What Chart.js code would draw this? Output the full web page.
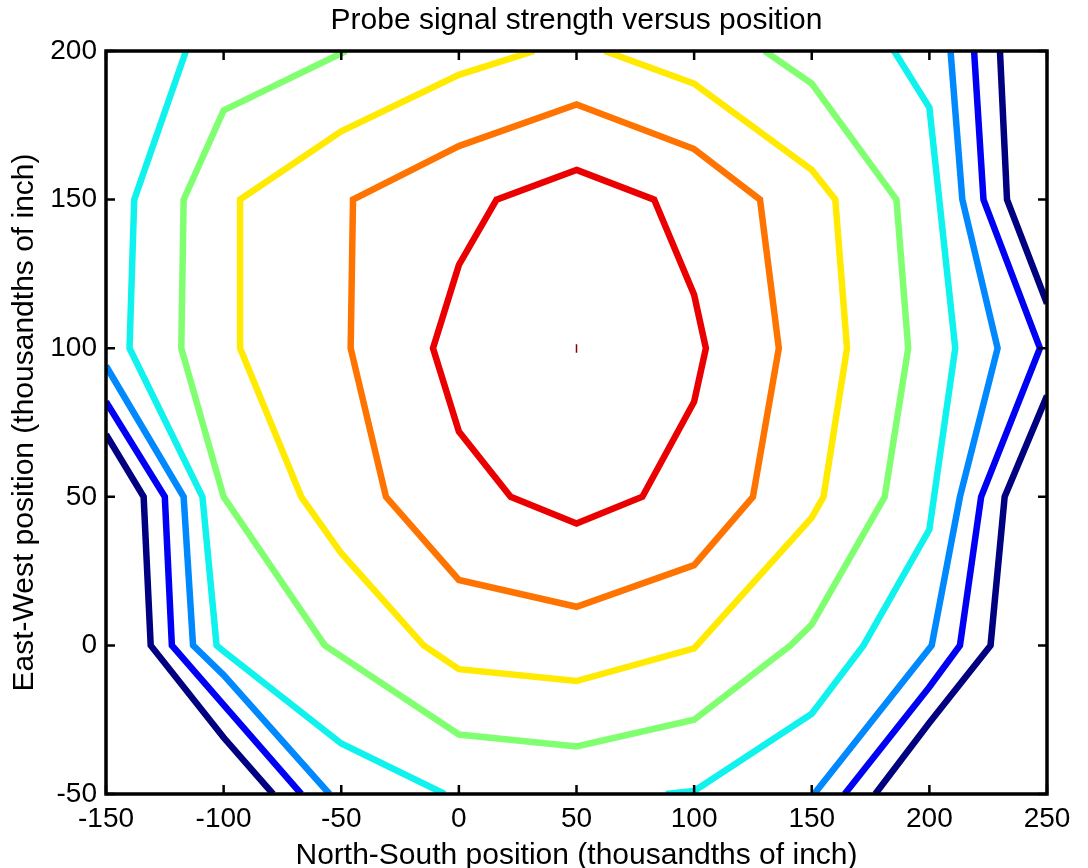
<!DOCTYPE html>
<html>
<head>
<meta charset="utf-8">
<title>Probe signal strength versus position</title>
<script src="https://cdn.jsdelivr.net/npm/chart.js@4.4.1/dist/chart.umd.min.js"></script>
<style>
  html, body { margin: 0; padding: 0; background: #ffffff; }
  #wrap { width: 1088px; height: 868px; }
</style>
</head>
<body>
<div id="wrap"><canvas id="contourChart" width="1088" height="868"></canvas></div>
<script>
// axis ticks
const xTicks = [-150, -100, -50, 0, 50, 100, 150, 200, 250];
const yTicks = [-50, 0, 50, 100, 150, 200];

// contour lines, [x, y] in thousandths of inch, lowest level first
const navyLeft = [[-150, 71], [-134, 50], [-131, 0], [-100, -31], [-79, -50]];
const navyRightTop = [[230, 200], [233, 150], [250, 115]];
const navyRightBottom = [[250, 84], [232, 50], [226, 0], [200, -26], [177, -50]];

const blueLeft = [[-150, 82], [-125, 50], [-122, 0], [-100, -20], [-67, -50]];
const blueRight = [[219, 200], [223, 150], [247, 100], [222, 50], [213, 0], [200, -14], [164, -50]];

const azureLeft = [[-150, 94], [-117, 50], [-113, 0], [-100, -10], [-55, -50]];
const azureRight = [[209, 200], [214, 150], [229, 100], [213, 50], [201, 0], [151, -50]];

const cyanLeft = [[-116, 200], [-138, 150], [-140, 100], [-109, 50], [-103, 0], [-100, -2], [-50, -33], [-6, -50]];
const cyanRight = [[185, 200], [200, 181], [211, 100], [200, 39], [172, 0], [150, -23], [100, -49], [88, -50]];

const greenLine = [[-48, 200], [-100, 180], [-117, 150], [-118, 100], [-100, 50], [-57, 0], [0, -30],
  [50, -34], [100, -25], [141, 0], [150, 7], [181, 50], [191, 100], [186, 150], [150, 189], [130, 200]];

const yellowLine = [[32, 200], [0, 192], [-50, 173], [-93, 150], [-93, 100], [-67, 50], [-50, 31], [-15, 0],
  [0, -8], [50, -12], [100, -1], [150, 43], [155, 50], [165, 100], [160, 150], [150, 160], [100, 189], [62, 200]];

// closed loops repeat the first two vertices so the seam gets a proper join
const orangeLine = [[50, 182], [100, 167], [128, 150], [136, 100], [125, 50], [100, 27], [50, 13], [0, 22],
  [-31, 50], [-46, 100], [-45, 150], [0, 168], [50, 182], [100, 167]];

const redLine = [[50, 160], [83, 150], [100, 118], [105, 100], [100, 82], [78, 50], [50, 41], [22, 50],
  [0, 72], [-11, 100], [0, 128], [16, 150], [50, 160], [83, 150]];

const peakLine = [[50, 101.3], [50, 98.5]];

const fontFamily = "'Liberation Sans', Arial, Helvetica, sans-serif";

function toPoints(list) {
    return list.map(function(p) { return { x: p[0], y: p[1] }; });
}

function contour(list, color, width) {
    return {
        data: toPoints(list),
        showLine: true,
        borderColor: color,
        backgroundColor: color,
        borderWidth: width || 6.5,
        pointRadius: 0,
        pointHoverRadius: 0,
        fill: false,
        tension: 0,
        clip: 0
    };
}

// MATLAB style box with inward ticks on all four sides
const axesBox = {
    id: 'axesBox',
    afterDatasetsDraw(chart) {
        const ctx = chart.ctx;
        const a = chart.chartArea;
        const xs = chart.scales.x;
        const ys = chart.scales.y;
        const len = 9;
        ctx.save();
        ctx.strokeStyle = '#000000';
        ctx.lineWidth = 2.5;
        ctx.beginPath();
        xTicks.forEach(function(v) {
            const px = xs.getPixelForValue(v);
            ctx.moveTo(px, a.bottom);
            ctx.lineTo(px, a.bottom - len);
            ctx.moveTo(px, a.top);
            ctx.lineTo(px, a.top + len);
        });
        yTicks.forEach(function(v) {
            const py = ys.getPixelForValue(v);
            ctx.moveTo(a.left, py);
            ctx.lineTo(a.left + len, py);
            ctx.moveTo(a.right, py);
            ctx.lineTo(a.right - len, py);
        });
        ctx.stroke();
        ctx.lineWidth = 3.5;
        ctx.strokeRect(a.left, a.top, a.right - a.left, a.bottom - a.top);
        ctx.restore();
    }
};

const ctx = document.getElementById('contourChart').getContext('2d');

new Chart(ctx, {
    type: 'scatter',
    data: {
        datasets: [
            contour(navyLeft, '#000080'),
            contour(navyRightTop, '#000080'),
            contour(navyRightBottom, '#000080'),
            contour(blueLeft, '#0000F5'),
            contour(blueRight, '#0000F5'),
            contour(azureLeft, '#0088FF'),
            contour(azureRight, '#0088FF'),
            contour(cyanLeft, '#10F2EE'),
            contour(cyanRight, '#10F2EE'),
            contour(greenLine, '#80FF70'),
            contour(yellowLine, '#FFEA00'),
            contour(orangeLine, '#FF7400'),
            contour(redLine, '#EA0000'),
            contour(peakLine, '#8A0000', 1.5)
        ]
    },
    options: {
        responsive: false,
        animation: false,
        devicePixelRatio: 1,
        layout: {
            padding: { left: 0, right: 41, top: 0, bottom: 0 }
        },
        scales: {
            x: {
                type: 'linear',
                min: -150,
                max: 250,
                afterBuildTicks: function(scale) {
                    scale.ticks = xTicks.map(function(v) { return { value: v }; });
                },
                afterFit: function(scale) {
                    scale.height = 74;
                },
                grid: { display: false, drawTicks: false },
                border: { display: false },
                ticks: {
                    color: '#000000',
                    padding: 1.5,
                    maxRotation: 0,
                    autoSkip: false,
                    font: { family: fontFamily, size: 28, lineHeight: 1.68 }
                },
                title: {
                    display: true,
                    text: 'North-South position (thousandths of inch)',
                    color: '#000000',
                    padding: { top: 0, bottom: 0 },
                    font: { family: fontFamily, size: 30, lineHeight: 0.85 }
                }
            },
            y: {
                type: 'linear',
                min: -50,
                max: 200,
                afterBuildTicks: function(scale) {
                    scale.ticks = yTicks.map(function(v) { return { value: v }; });
                },
                afterFit: function(scale) {
                    scale.width = 106;
                },
                grid: { display: false, drawTicks: false },
                border: { display: false },
                ticks: {
                    color: '#000000',
                    padding: 9,
                    autoSkip: false,
                    font: { family: fontFamily, size: 28 }
                },
                title: {
                    display: true,
                    text: 'East-West position (thousandths of inch)',
                    color: '#000000',
                    padding: { top: 6.6, bottom: 7.7 },
                    font: { family: fontFamily, size: 30, lineHeight: 1.2 }
                }
            }
        },
        plugins: {
            legend: { display: false },
            tooltip: { enabled: false },
            title: {
                display: true,
                fullSize: false,
                text: 'Probe signal strength versus position',
                color: '#000000',
                padding: { top: 3, bottom: 12 },
                font: { family: fontFamily, size: 30, weight: 'normal', lineHeight: 1.2 }
            }
        }
    },
    plugins: [axesBox]
});
</script>
</body>
</html>
